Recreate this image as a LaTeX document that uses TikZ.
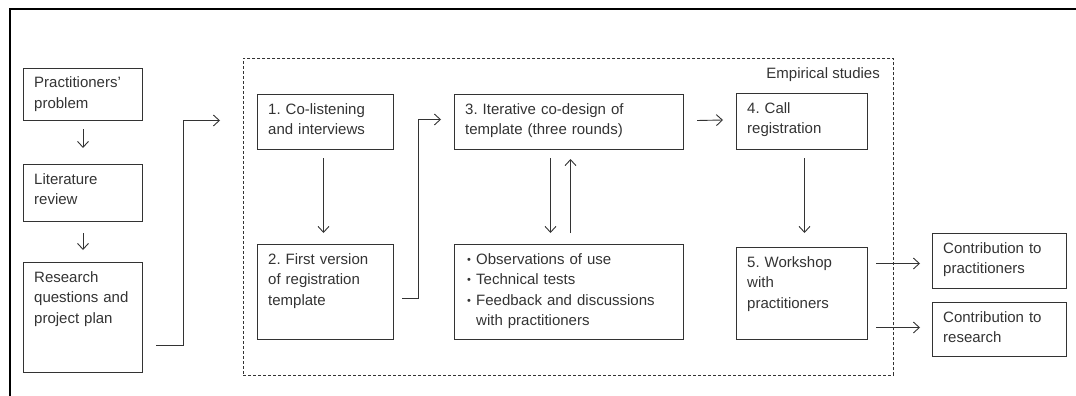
\documentclass[tikz,border=0pt]{standalone}
\usepackage{fontspec}
\setmainfont{Liberation Sans}
\usetikzlibrary{arrows.meta,calc}
\definecolor{ink}{HTML}{333333}
\definecolor{edge}{HTML}{333333}
\tikzset{
  box/.style={draw=edge, line width=1pt, inner sep=0pt, anchor=north west},
  txt/.style={text=ink, font=\fontsize{15}{20.5}\selectfont, text width=220pt, align=left, inner sep=0pt, anchor=base west},
  arr/.style={draw=edge, line width=0.9pt, -{Straight Barb[length=6pt,width=11pt]}},
  frame/.style={draw=black, line width=2.5pt},
  group/.style={draw=ink, line width=0.8pt, dash pattern=on 3pt off 2pt},
}
\newcommand{\bx}[6]{%
  \node[box, minimum width=#4pt, minimum height=#5pt] (#1) at (#2,#3) {};
  \node[txt] (#1t) at ($(#1.north west)+(11,20)$) {#6};
}
\newcommand{\bul}{\makebox[9pt][l]{\fontsize{11}{11}\selectfont\raisebox{1pt}{•}}}
\frenchspacing
\begin{document}
\begin{tikzpicture}[x=1pt,y=-1pt]
\useasboundingbox (0,0) rectangle (1076,396);
% outer frame (partly visible)
\coordinate (fl) at (10,396);
\coordinate (ftl) at (10,9);
\coordinate (fr) at (1076,9);
\draw[frame] (fl) -- (ftl) -- (fr);
% empirical studies group
\node[group, anchor=north west, minimum width=650pt, minimum height=317pt, inner sep=0pt] (grp) at (243,58) {};
\node[txt, text width=, anchor=base east] (grpt) at (880,78) {Empirical studies};
% left column
\bx{p1}{23}{68}{119}{52}{Practitioners'\\problem}
\bx{p2}{23}{164}{119}{57}{Literature\\review}
\bx{p3}{23}{262}{119}{110}{Research\\questions and\\project plan}
% studies
\bx{b1}{257}{94}{136}{55}{1. Co-listening\\and interviews}
\bx{b2}{257}{244}{136}{95}{2. First version\\of registration\\template}
\bx{b3}{454}{94}{229}{55}{3. Iterative co-design of\\template (three rounds)}
\node[box, minimum width=229pt, minimum height=95pt] (bl) at (454,244) {};
\node[txt] (blt) at ($(bl.north west)+(13,20)$) {\bul Observations of use\\\bul Technical tests\\\bul Feedback and discussions\\\hspace*{9pt}with practitioners};
\bx{b4}{736}{93}{131}{56}{4. Call\\registration}
\bx{b5}{736}{247}{131}{92}{5. Workshop\\with\\practitioners}
% contributions
\bx{c1}{932}{233}{134}{55}{Contribution to\\practitioners}
\bx{c2}{932}{302}{134}{54}{Contribution to\\research}
% connectors
\draw[arr] ($(p1.south)+(0,8)$) -- ($(p2.north)+(0,-16)$);
\draw[arr] ($(p2.south)+(0,11)$) -- ($(p3.north)+(0,-12)$);
\draw[arr] ($(p3.south east)+(13,-28)$) -- ++(27,0) |- ($(b1.west)+(-37,-1.5)$);
\draw[arr] ($(b1.south)+(-2,8)$) -- ($(b2.north)+(-2,-11)$);
\draw[arr] ($(b2.east)+(8,6.5)$) -- ++(16,0) |- ($(b3.west)+(-13,-2.5)$);
\draw[arr] ($(b3.south)+(-18.5,8)$) -- ($(bl.north)+(-18.5,-11)$);
\draw[arr] ($(bl.north)+(1.5,-11)$) -- ($(b3.south)+(1.5,9)$);
\draw[arr] ($(b3.east)+(13,-1.5)$) -- ($(b4.west)+(-13,-1.5)$);
\draw[arr] ($(b4.south)+(2.5,8)$) -- ($(b5.north)+(2.5,-14)$);
\draw[arr] ($(b5.east |- c1.west)+(8,2.5)$) -- ($(c1.west)+(-12,2.5)$);
\draw[arr] ($(b5.east |- c2.west)+(8,-2)$) -- ($(c2.west)+(-12,-2)$);
\end{tikzpicture}
\end{document}
